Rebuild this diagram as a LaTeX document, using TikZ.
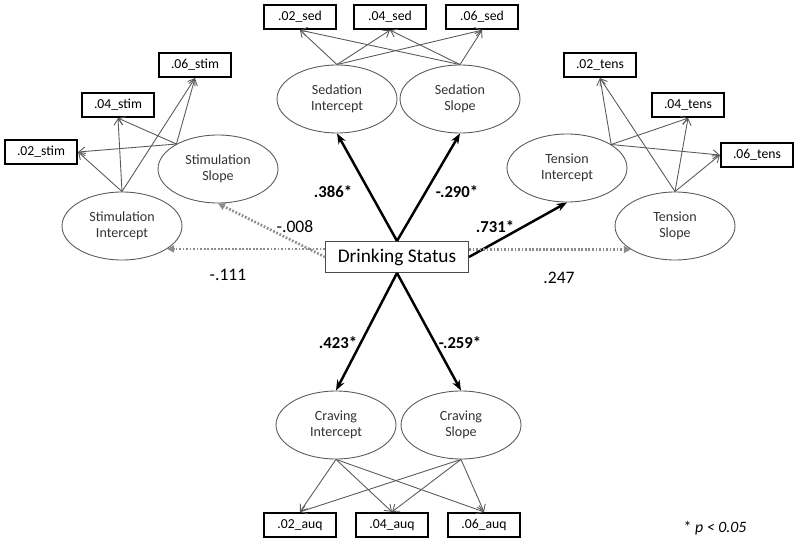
\documentclass[tikz,border=0pt]{standalone}
\usepackage{fontspec}
\setmainfont{Carlito}
\usetikzlibrary{shapes.geometric,arrows.meta}

\begin{document}
\begin{tikzpicture}[x=0.02cm,y=-0.02cm,
    latent/.style={ellipse,draw=black!65,line width=0.5pt,minimum width=2.4cm,
      minimum height=1.36cm,inner sep=0pt,align=center,text=black!80,
      font=\fontsize{8}{9.2}\selectfont},
    indic/.style={rectangle,draw,line width=1.3pt,minimum width=1.44cm,
      minimum height=0.48cm,inner sep=0pt,font=\fontsize{7.8}{9}\selectfont},
    load/.style={draw=black!65,line width=0.5pt,-{Straight Barb[length=3.5pt,width=5pt]}},
    sig/.style={draw,line width=1.4pt,-{Stealth[length=6pt,width=4.5pt]}},
    nonsig/.style={draw=black!45,line width=1.5pt,dash pattern=on 1pt off 1pt,
      -{Triangle[length=4pt,width=4pt]}},
    coef/.style={font=\fontsize{9.5}{11}\selectfont\bfseries},
    coefns/.style={font=\fontsize{10}{12}\selectfont}]

  \useasboundingbox (0,0) rectangle (800,550);

  % Predictor
  \node[draw=black!70,line width=0.6pt,minimum width=2.86cm,minimum height=0.62cm,
    inner sep=0pt,font=\fontsize{11}{12}\selectfont] (ds) at (397,257) {Drinking Status};

  % Sedation
  \node[latent] (sedI) at (337,99) {Sedation\\Intercept};
  \node[latent] (sedS) at (460,99) {Sedation\\Slope};
  \node[indic] (sed02) at (300,17) {.02\_sed};
  \node[indic] (sed04) at (390,17) {.04\_sed};
  \node[indic] (sed06) at (482,17) {.06\_sed};

  % Stimulation
  \node[latent] (stimI) at (122,226) {Stimulation\\Intercept};
  \node[latent] (stimS) at (218,169) {Stimulation\\Slope};
  \node[indic] (stim02) at (41,152) {.02\_stim};
  \node[indic] (stim04) at (118,105) {.04\_stim};
  \node[indic] (stim06) at (195,65) {.06\_stim};

  % Tension
  \node[latent] (tenI) at (567,168) {Tension\\Intercept};
  \node[latent] (tenS) at (675,226) {Tension\\Slope};
  \node[indic] (ten02) at (600,65) {.02\_tens};
  \node[indic] (ten04) at (688,105) {.04\_tens};
  \node[indic] (ten06) at (757,155) {.06\_tens};

  % Craving
  \node[latent] (cravI) at (336,425) {Craving\\Intercept};
  \node[latent] (cravS) at (461,425) {Craving\\Slope};
  \node[indic] (auq02) at (300,525) {.02\_auq};
  \node[indic] (auq04) at (392,525) {.04\_auq};
  \node[indic] (auq06) at (484,525) {.06\_auq};

  % Loadings
  \foreach \src in {sedI,sedS}
    \foreach \dst in {sed02,sed04,sed06}
      \draw[load] (\src.north) -- (\dst.south);
  \foreach \src in {cravI,cravS}
    \foreach \dst in {auq02,auq04,auq06}
      \draw[load] (\src.south) -- (\dst.north);
  \foreach \src in {stimI.north,stimS.149}{
    \draw[load] (\src) -- (stim02.east);
    \draw[load] (\src) -- (stim04.south);
    \draw[load] (\src) -- (stim06.south);
  }
  \foreach \src in {tenI.28,tenS.north}{
    \draw[load] (\src) -- (ten02.south);
    \draw[load] (\src) -- (ten04.south);
    \draw[load] (\src) -- (ten06.west);
  }

  % Structural paths
  \draw[sig] (ds.north) -- (sedI.south);
  \draw[sig] (ds.north) -- (sedS.south);
  \draw[sig] (ds.south) -- (cravI.north);
  \draw[sig] (ds.south) -- (cravS.north);
  \draw[sig] (ds.east) -- (tenI.south);
  \draw[nonsig] (ds.west) -- (stimS.south);
  \draw[nonsig] (ds.west |- stimI.-27) -- (stimI.-27);
  \draw[nonsig] (ds.east |- tenS.208) -- (tenS.208);

  % Coefficients
  \node[coef] (b386) at (333,192) {.386*};
  \node[coef] (b290) at (457,192) {-.290*};
  \node[coef] (b731) at (495,227) {.731*};
  \node[coef] (b423) at (338,343) {.423*};
  \node[coef] (b259) at (460,343) {-.259*};
  \node[coefns] (b008) at (295,227) {-.008};
  \node[coefns] (b111) at (228,275) {-.111};
  \node[coefns] (b247) at (559,278) {.247};

  \node[font=\fontsize{9}{11}\selectfont] (note) at (715,528) {* \itshape p < 0.05};
\end{tikzpicture}
\end{document}
